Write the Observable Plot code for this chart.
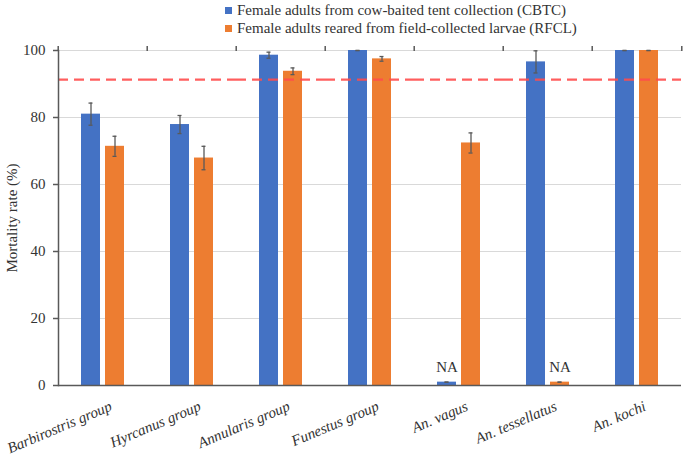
<!DOCTYPE html>
<html>
<head>
<meta charset="utf-8">
<script src="https://cdn.jsdelivr.net/npm/d3@7"></script>
<script src="https://cdn.jsdelivr.net/npm/@observablehq/plot@0.6"></script>
<style>
  html, body { margin: 0; padding: 0; background: #fff; }
  #wrap { position: relative; width: 685px; height: 458px; font-family: "Liberation Serif", "DejaVu Serif", serif; }
  #legend { position: absolute; left: 225px; top: 1px; font-size: 15px; line-height: 18px; color: #333; font-family: "Liberation Serif", "DejaVu Serif", serif; }
  #legend .item { display: flex; align-items: center; white-space: nowrap; }
  #legend .sw { width: 7px; height: 7px; margin-right: 5px; display: inline-block; }
  svg text { font-family: "Liberation Serif", "DejaVu Serif", serif; }
</style>
</head>
<body>
<div id="wrap"><div id="legend"></div></div>
<script>
const groups = ["Barbirostris group", "Hyrcanus group", "Annularis group", "Funestus group", "An. vagus", "An. tessellatus", "An. kochi"];
const seriesNames = ["Female adults from cow-baited tent collection (CBTC)", "Female adults reared from field-collected larvae (RFCL)"];
const seriesKeys = ["CBTC", "RFCL"];
const cbtcValues = [81.0, 77.9, 98.6, 100, 1.0, 96.6, 100];
const cbtcErrors = [3.3, 2.7, 0.9, 0, 0, 3.3, 0];
const cbtcNA = [false, false, false, false, true, false, false];
const rfclValues = [71.4, 67.9, 93.8, 97.5, 72.4, 1.0, 100];
const rfclErrors = [3.0, 3.5, 1.0, 0.7, 3.0, 0, 0];
const rfclNA = [false, false, false, false, false, true, false];
const threshold = [91.3];
const yTicks = [0, 20, 40, 60, 80, 100];
const colors = ["#4472C4", "#ED7D31"];

const rows = [];
groups.forEach((g, i) => {
  rows.push({group: g, series: "CBTC", value: cbtcValues[i], err: cbtcErrors[i], na: cbtcNA[i]});
  rows.push({group: g, series: "RFCL", value: rfclValues[i], err: rfclErrors[i], na: rfclNA[i]});
});

const W = 685, H = 458, mL = 56, mR = 2, mT = 50, mB = 73;
const step = (W - mL - mR) / groups.length;
const axisColor = "#595959";
const serif = "'Liberation Serif', 'DejaVu Serif', serif";

const chart = Plot.plot({
  width: W, height: H,
  marginLeft: mL, marginRight: mR, marginTop: mT, marginBottom: mB,
  style: {fontFamily: serif, fontSize: "15px", color: "#333", background: "transparent"},
  fx: {domain: groups, padding: 0, axis: null, label: null},
  x: {domain: seriesKeys, paddingInner: 0.2, paddingOuter: 0.892, axis: null, label: null},
  y: {domain: [0, 100], axis: null},
  color: {domain: seriesKeys, range: colors},
  marks: [
    Plot.gridY(yTicks.filter(t => t > 0), {stroke: "#D9D9D9", strokeOpacity: 1, strokeWidth: 1}),
    Plot.barY(rows, {fx: "group", x: "series", y: "value", fill: "series", inset: 0}),
    Plot.ruleX(rows, {fx: "group", x: "series", y1: d => d.value - d.err, y2: d => d.value + d.err, stroke: axisColor, strokeWidth: 1.3}),
    Plot.tickY(rows, {fx: "group", x: "series", y: d => d.value + d.err, stroke: axisColor, strokeWidth: 1.3, insetLeft: 7.5, insetRight: 7.5}),
    Plot.tickY(rows, {fx: "group", x: "series", y: d => d.value - d.err, stroke: axisColor, strokeWidth: 1.3, insetLeft: 7.5, insetRight: 7.5}),
    Plot.ruleY(threshold, {stroke: "#FF4D4D", strokeWidth: 2.4, strokeDasharray: "10,6", strokeOpacity: 0.9}),
    Plot.text(rows.filter(d => d.na), {fx: "group", x: "series", y: "value", text: () => "NA", dy: -15, fontSize: 15, fill: "#333"}),
    Plot.ruleY([0], {stroke: axisColor, strokeWidth: 1.5}),
    Plot.frame({anchor: "left", facetAnchor: "left", stroke: axisColor, strokeWidth: 1.5}),
    Plot.axisY({ticks: yTicks, tickSize: 5, tickPadding: 8, stroke: axisColor, strokeWidth: 1.5, fontSize: 15, fill: "#333",
      label: "Mortality rate (%)", labelAnchor: "center", labelArrow: "none", labelOffset: 52}),
    Plot.axisFx({label: null, tickSize: 5, tickFormat: () => "", dx: -step / 2, stroke: axisColor, strokeWidth: 1.5}),
    Plot.axisFx({label: null, ticks: [groups[groups.length - 1]], tickSize: 5, tickFormat: () => "", dx: step / 2, stroke: axisColor, strokeWidth: 1.5}),
    Plot.text(groups, {fx: d => d, text: d => d, frameAnchor: "bottom", rotate: -23, textAnchor: "end", lineAnchor: "middle", dx: 8, dy: 20, fontStyle: "italic", fontSize: 15, fill: "#333"})
  ]
});
document.getElementById("wrap").appendChild(chart);

const legend = document.getElementById("legend");
seriesNames.forEach((name, i) => {
  const item = document.createElement("div");
  item.className = "item";
  const sw = document.createElement("span");
  sw.className = "sw";
  sw.style.background = colors[i];
  item.appendChild(sw);
  item.appendChild(document.createTextNode(name));
  legend.appendChild(item);
});
</script>
</body>
</html>
